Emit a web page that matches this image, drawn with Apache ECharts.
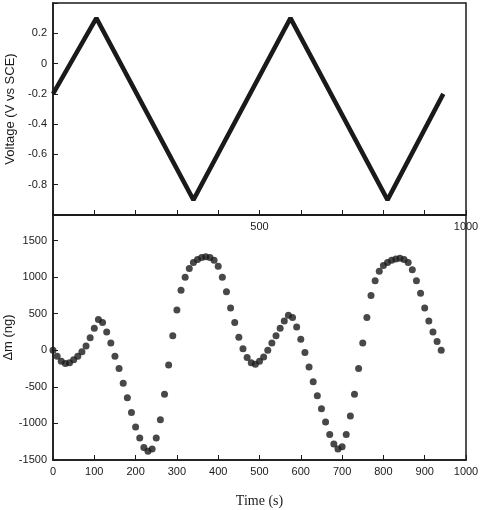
<!DOCTYPE html>
<html>
<head>
<meta charset="utf-8">
<script src="https://cdn.jsdelivr.net/npm/echarts@6/dist/echarts.min.js"></script>
<style>html,body{margin:0;background:#fff}#chart{width:480px;height:510px}</style>
</head>
<body>
<div id="chart"></div>
<script>
// voltage sweep vertices (time s, V vs SCE)
const voltTimes = [0, 105, 340, 575, 810, 945];
const voltValues = [-0.2, 0.3, -0.9, 0.3, -0.9, -0.2];

// mass change (ng), sampled every 10 s
const massTimes = [0,10,20,30,40,50,60,70,80,90,100,110,120,130,140,150,160,170,180,190,200,210,220,230,240,250,260,270,280,290,300,310,320,330,340,350,360,370,380,390,400,410,420,430,440,450,460,470,480,490,500,510,520,530,540,550,560,570,580,590,600,610,620,630,640,650,660,670,680,690,700,710,720,730,740,750,760,770,780,790,800,810,820,830,840,850,860,870,880,890,900,910,920,930,940];
const massValues = [0,-80,-150,-180,-170,-130,-80,-20,60,170,300,420,380,250,100,-80,-250,-450,-650,-850,-1050,-1200,-1330,-1380,-1350,-1200,-950,-600,-200,200,550,820,1000,1120,1200,1240,1270,1280,1270,1230,1150,1000,800,580,380,180,20,-100,-170,-190,-150,-90,0,100,200,300,400,480,450,320,150,-30,-230,-430,-620,-800,-980,-1150,-1280,-1350,-1320,-1150,-900,-600,-250,100,450,750,950,1080,1160,1200,1230,1250,1260,1240,1200,1100,950,780,580,400,250,120,0];

const ink = '#1a1a1a';
const chart = echarts.init(document.getElementById('chart'));

const baseX = {
    type: 'value', min: 0, max: 1000, interval: 100,
    axisLine: { onZero: false, lineStyle: { color: ink, width: 1.5 } },
    axisTick: { inside: true, length: 5, lineStyle: { color: ink } },
    splitLine: { show: false },
    axisLabel: { color: ink, fontSize: 11, fontFamily: 'Liberation Sans', margin: 6, formatter: v => String(v) }
};
const baseY = {
    type: 'value',
    axisLine: { show: true, onZero: false, lineStyle: { color: ink, width: 1.5 } },
    axisTick: { inside: true, length: 5, lineStyle: { color: ink } },
    splitLine: { show: false },
    axisLabel: { color: ink, fontSize: 11, fontFamily: 'Liberation Sans', margin: 6 },
    nameLocation: 'middle',
    nameMoveOverlap: false,
    nameTextStyle: { color: ink, fontSize: 13, fontFamily: 'Liberation Sans' }
};

chart.setOption({
    animation: false,
    grid: [
        { left: 53, right: 14, top: 3, height: 212, containLabel: false, outerBoundsMode: 'none', show: true, borderColor: ink, borderWidth: 1.5 },
        { left: 53, right: 14, top: 215, height: 245, containLabel: false, outerBoundsMode: 'none', show: true, borderColor: ink, borderWidth: 1.5 }
    ],
    xAxis: [
        Object.assign({}, baseX, {
            gridIndex: 0,
            axisLabel: Object.assign({}, baseX.axisLabel, {
                formatter: v => (v === 500 || v === 1000) ? String(v) : ''
            })
        }),
        Object.assign({}, baseX, {
            gridIndex: 1,
            name: 'Time (s)', nameLocation: 'middle', nameGap: 34, nameMoveOverlap: false,
            nameTextStyle: { color: ink, fontSize: 14, fontFamily: 'Liberation Serif' }
        })
    ],
    yAxis: [
        Object.assign({}, baseY, {
            gridIndex: 0, min: -1, max: 0.4, interval: 0.2,
            name: 'Voltage (V vs SCE)', nameGap: 36,
            axisLabel: Object.assign({}, baseY.axisLabel, {
                formatter: v => (v <= -0.99 || v >= 0.39) ? '' : String(Math.round(v * 10) / 10)
            })
        }),
        Object.assign({}, baseY, {
            gridIndex: 1, min: -1500, max: 1850, interval: 500,
            name: 'Δm (ng)', nameGap: 38,
            axisLabel: Object.assign({}, baseY.axisLabel, { showMaxLabel: false, formatter: v => String(v) })
        })
    ],
    series: [
        {
            type: 'line', xAxisIndex: 0, yAxisIndex: 0,
            data: voltTimes.map((t, i) => [t, voltValues[i]]),
            symbol: 'none',
            lineStyle: { color: ink, width: 4.5 }
        },
        {
            type: 'scatter', xAxisIndex: 1, yAxisIndex: 1,
            data: massTimes.map((t, i) => [t, massValues[i]]),
            symbolSize: 7,
            itemStyle: { color: ink }
        }
    ]
});
</script>
</body>
</html>
